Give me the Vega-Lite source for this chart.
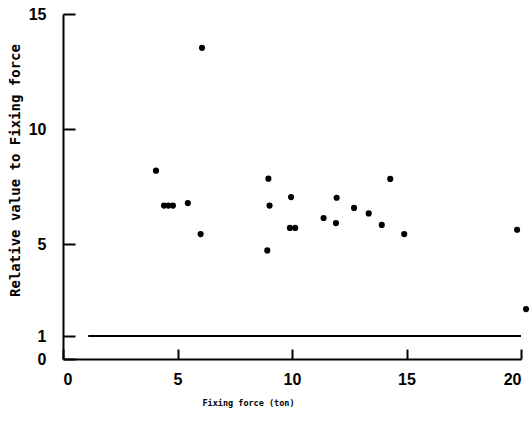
{
  "$schema": "https://vega.github.io/schema/vega-lite/v6.json",
  "width": 458,
  "height": 345,
  "autosize": "none",
  "padding": {"left": 63, "top": 14, "right": 11, "bottom": 63},
  "background": "white",
  "config": {"view": {"stroke": null}},
  "layer": [
    {
      "data": {"values": [{"x1": 1.1, "x2": 20, "y": 1}]},
      "mark": {"type": "rule", "color": "black", "strokeWidth": 1.8},
      "encoding": {
        "x": {"field": "x1", "type": "quantitative", "scale": {"domain": [0, 20]}},
        "x2": {"field": "x2"},
        "y": {"field": "y", "type": "quantitative", "scale": {"domain": [0, 15]}}
      }
    },
    {
      "data": {"values": [
        {"force": 4.06, "rel": 8.19},
        {"force": 4.41, "rel": 6.67},
        {"force": 4.6, "rel": 6.67},
        {"force": 4.8, "rel": 6.67},
        {"force": 5.45, "rel": 6.78},
        {"force": 6.01, "rel": 5.43},
        {"force": 6.07, "rel": 13.53},
        {"force": 8.97, "rel": 7.84},
        {"force": 9.02, "rel": 6.67},
        {"force": 8.92, "rel": 4.72},
        {"force": 9.96, "rel": 7.04},
        {"force": 9.91, "rel": 5.7},
        {"force": 10.14, "rel": 5.7},
        {"force": 11.38, "rel": 6.13},
        {"force": 11.95, "rel": 7.01},
        {"force": 11.92, "rel": 5.91},
        {"force": 12.71, "rel": 6.57},
        {"force": 13.35, "rel": 6.33},
        {"force": 13.92, "rel": 5.83},
        {"force": 14.29, "rel": 7.83},
        {"force": 14.9, "rel": 5.43},
        {"force": 19.83, "rel": 5.62},
        {"force": 20.22, "rel": 2.17}
      ]},
      "mark": {"type": "point", "filled": true, "color": "black", "opacity": 1, "size": 38, "clip": false},
      "encoding": {
        "x": {
          "field": "force", "type": "quantitative",
          "scale": {"domain": [0, 20], "nice": false},
          "axis": {
            "title": "Fixing force  (ton)",
            "values": [0, 5, 10, 15, 20],
            "grid": false,
            "domainColor": "black", "domainWidth": 2,
            "tickColor": "black", "tickWidth": 2, "tickSize": -10,
            "labelPadding": 22,
            "labelFont": "Liberation Sans", "labelFontWeight": "bold", "labelFontSize": 16, "labelColor": "black",
            "labelBaseline": "top",
            "titleFont": "DejaVu Sans Mono", "titleFontWeight": "bold", "titleFontSize": 8.5, "titleColor": "black",
            "titleX": 185, "titleY": 43, "titleBaseline": "middle", "titleAlign": "center"
          }
        },
        "y": {
          "field": "rel", "type": "quantitative",
          "scale": {"domain": [0, 15], "nice": false},
          "axis": {
            "title": "Relative value to Fixing force",
            "values": [0, 1, 5, 10, 15],
            "grid": false,
            "domainColor": "black", "domainWidth": 2,
            "tickColor": "black", "tickWidth": 2, "tickSize": -12,
            "labelPadding": 29,
            "labelFont": "Liberation Sans", "labelFontWeight": "bold", "labelFontSize": 16, "labelColor": "black",
            "titleFont": "DejaVu Sans Mono", "titleFontWeight": "bold", "titleFontSize": 14, "titleColor": "black",
            "titleX": -48, "titleY": 156, "titleAngle": -90, "titleBaseline": "middle", "titleAlign": "center"
          }
        }
      }
    }
  ]
}
